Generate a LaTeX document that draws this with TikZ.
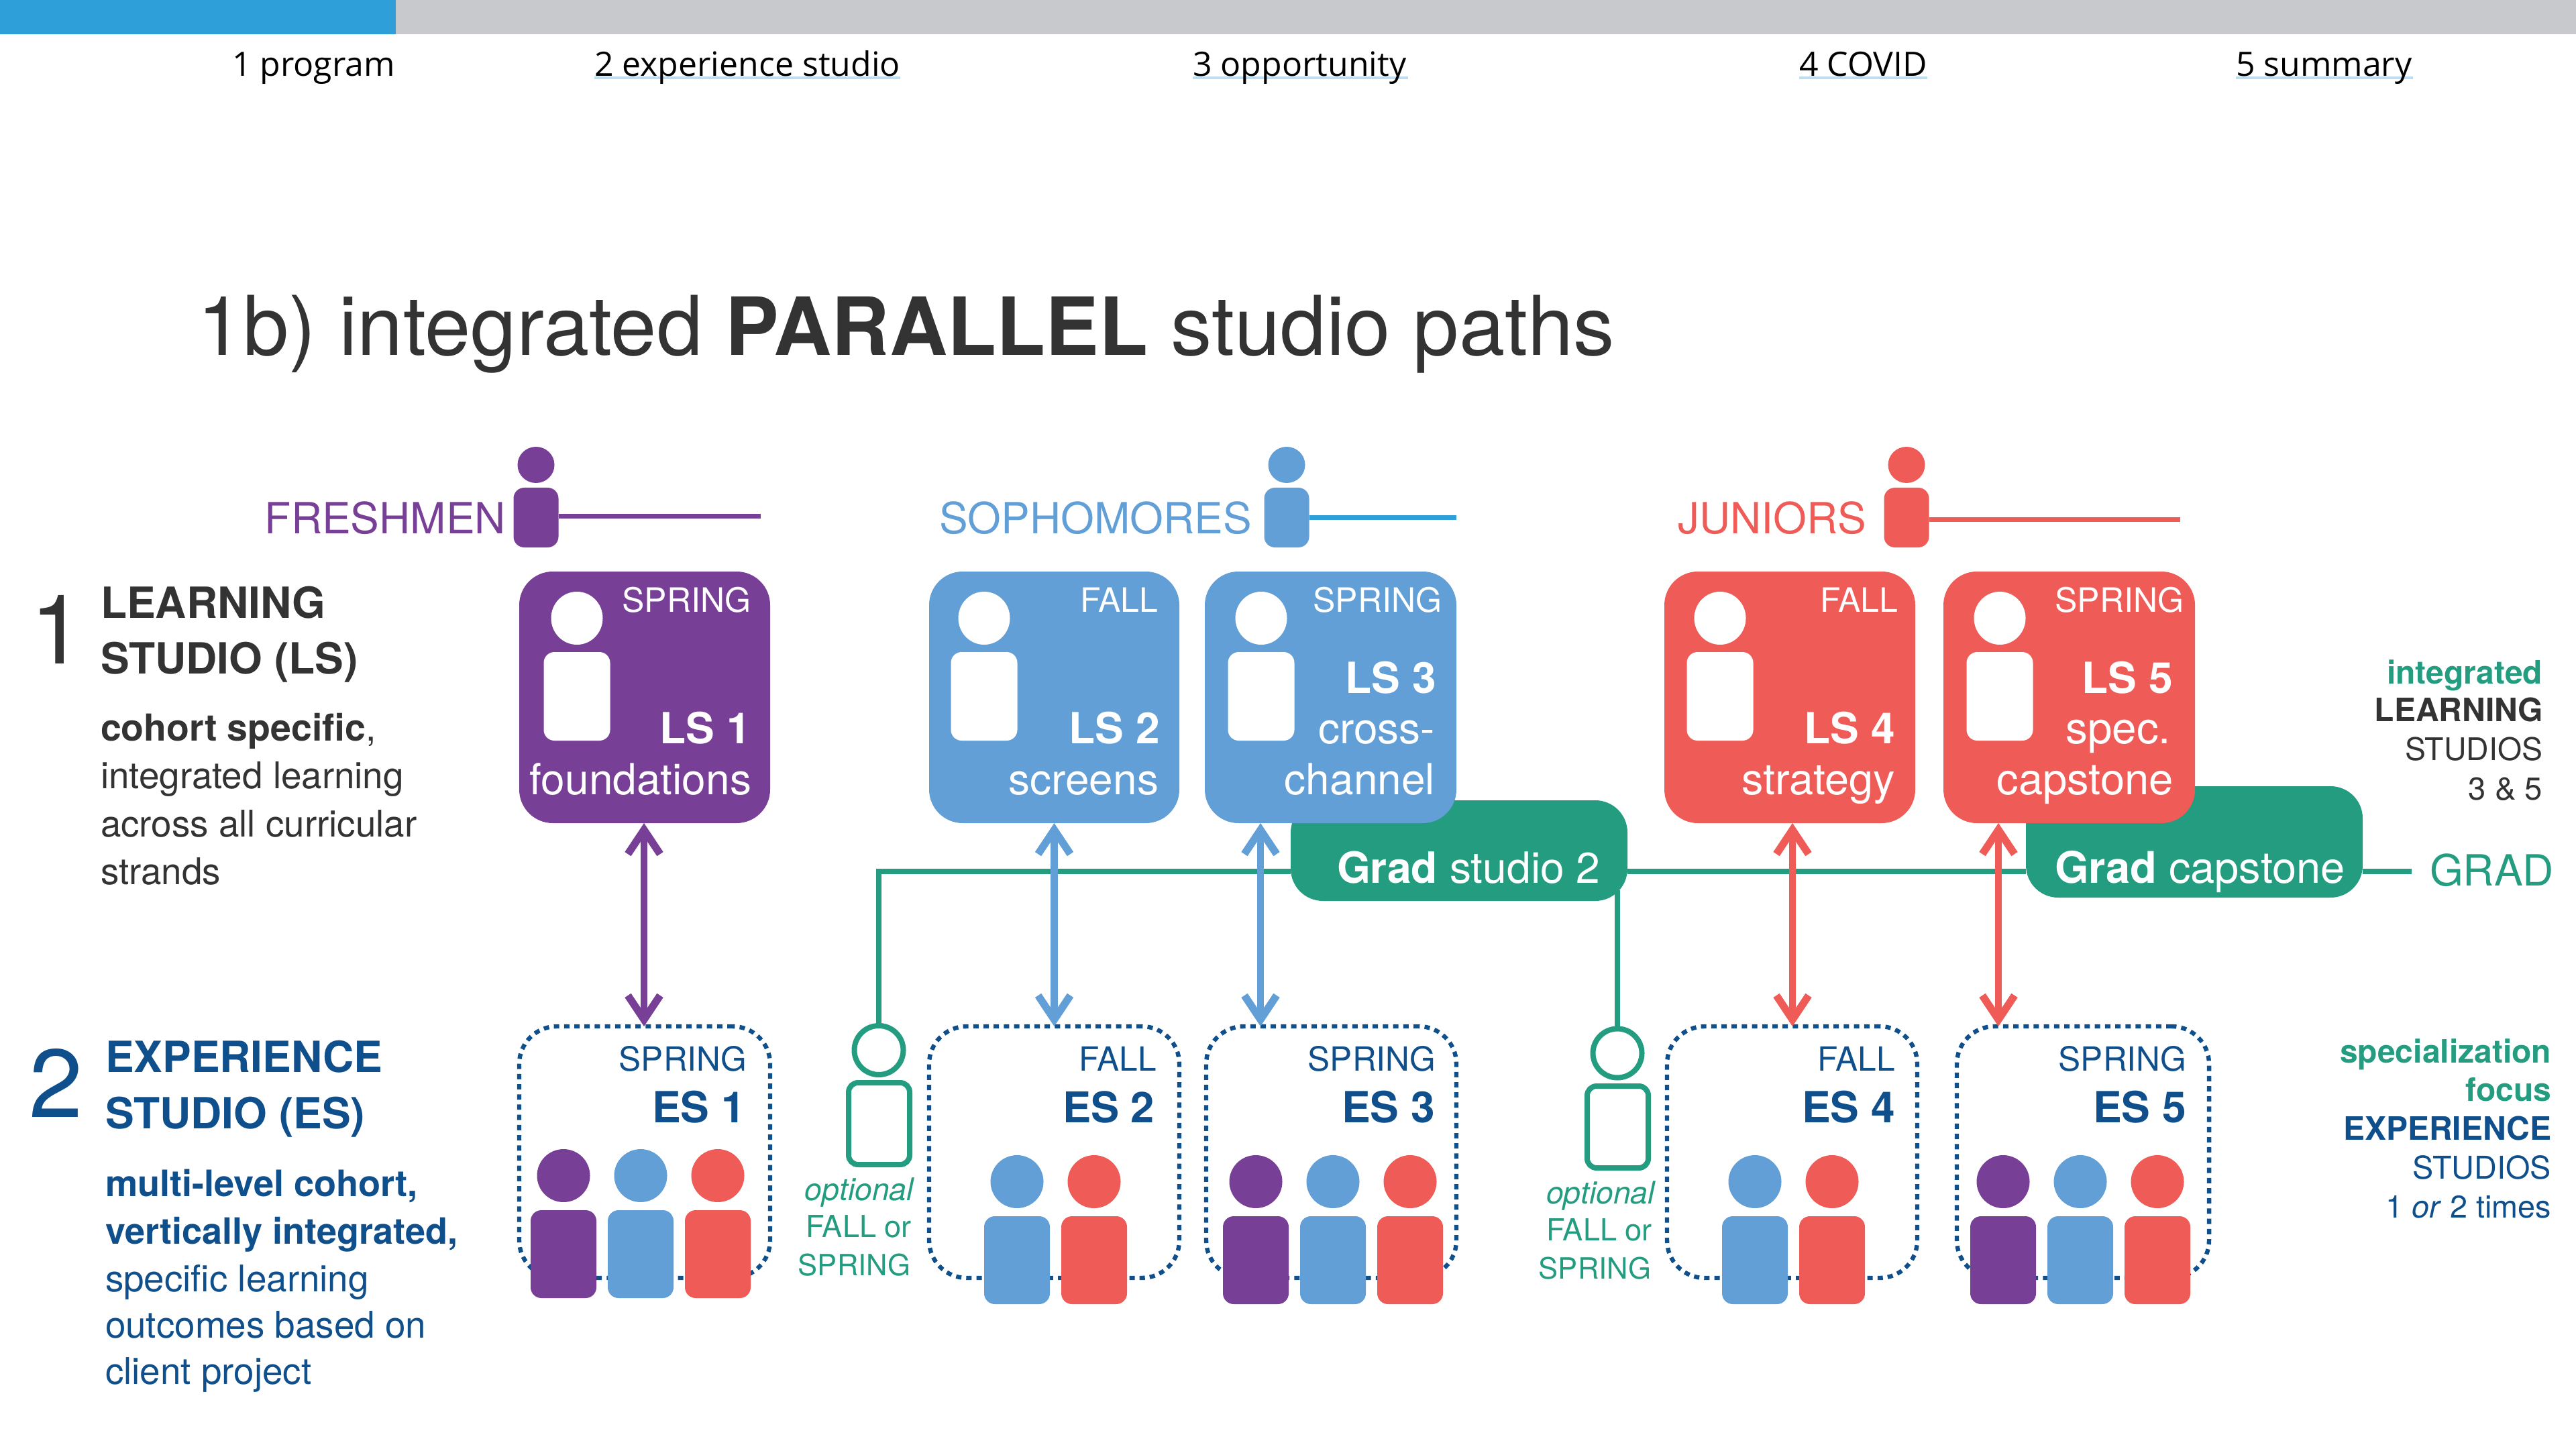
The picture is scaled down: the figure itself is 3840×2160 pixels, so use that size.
\documentclass[tikz,border=0pt]{standalone}
\usepackage{fontspec}
\usetikzlibrary{arrows.meta,shapes.geometric,calc}
\setmainfont{TeX Gyre Heros}
\newfontfamily\tabfont{Open Sans}
\definecolor{cpurple}{HTML}{783F96}
\definecolor{cblue}{HTML}{629FD7}
\definecolor{cred}{HTML}{EF5C57}
\definecolor{cgreen}{HTML}{239C80}
\definecolor{cnavy}{HTML}{0F4F8B}
\definecolor{cbar}{HTML}{2E9FD9}
\definecolor{cgray}{HTML}{C8C9CD}
\definecolor{cdark}{HTML}{333333}
\definecolor{cul}{HTML}{BDDDF0}
\newcommand\fsz[1]{\fontsize{#1}{#1}\selectfont}
\tikzset{
  txt/.style={inner sep=0pt,outer sep=0pt},
  tl/.style={txt,anchor=base west},
  tr/.style={txt,anchor=base east},
  lsbox/.style={rounded corners=12.5pt,inner sep=0pt,outer sep=0pt},
  esbox/.style={draw=cnavy,line width=1.6pt,dash pattern=on 2pt off 1.8pt,rounded corners=14pt,inner sep=0pt,outer sep=0pt},
  gradbox/.style={fill=cgreen,rounded corners=12pt,inner sep=0pt,outer sep=0pt},
  gline/.style={cgreen,line width=1.8pt},
  yearline/.style={line width=1.75pt},
  twoway/.style={line width=2.6pt,{Straight Barb[length=9pt,width=12pt,line width=2.8pt]}-{Straight Barb[length=9pt,width=12pt,line width=2.8pt]}},
  optbody/.style={draw=cgreen,line width=2pt,rounded corners=3.5pt,inner sep=0pt,outer sep=0pt},
  opthead/.style={draw=cgreen,line width=2pt,ellipse,inner sep=0pt,outer sep=0pt,minimum width=18.25pt,minimum height=18.25pt},
}
% name x0 y0 x1 y1 style
\newcommand\bx[6]{%
  \pgfmathsetmacro\bxcx{(#2+#4)/2}\pgfmathsetmacro\bxcy{(#3+#5)/2}%
  \pgfmathsetmacro\bxw{(#4-#2)*0.25}\pgfmathsetmacro\bxh{(#5-#3)*0.25}%
  \node[#6,minimum width=\bxw pt,minimum height=\bxh pt] (#1) at (\bxcx,\bxcy) {};}
% name cx heady0 heady1 headw bodyw bodyy0 bodyy1 colour
\newcommand\person[9]{%
  \pgfmathsetmacro\phx{#5/2}\pgfmathsetmacro\phy{(#4-#3)/2}\pgfmathsetmacro\phc{(#3+#4)/2}%
  \pgfmathsetmacro\pbl{#2-#6/2}\pgfmathsetmacro\pbr{#2+#6/2}%
  \fill[#9] (#2,\phc) ellipse [x radius=\phx,y radius=\phy];
  \bx{#1}{\pbl}{#7}{\pbr}{#8}{fill=#9,rounded corners=4pt,inner sep=0pt,outer sep=0pt}}
\newcommand\lsperson[2]{\person{#1}{#2}{882}{961}{77}{99}{972}{1104}{white}}
\newcommand\esperson[3]{\person{#1}{#2}{1722}{1801}{79}{98}{1813}{1944}{#3}}
\newcommand\esupperson[3]{\person{#1}{#2}{1713}{1792}{79}{98}{1804}{1935}{#3}}
\begin{document}
\begin{tikzpicture}[x=0.25pt,y=-0.25pt]
\useasboundingbox (0,0) rectangle (3840,2160);
% top bar
\bx{barrest}{0}{0}{3840}{51}{fill=cgray,inner sep=0pt,outer sep=0pt}
\bx{barnow}{0}{0}{590}{51}{fill=cbar,inner sep=0pt,outer sep=0pt}
% tabs
\fill[cul] (886,114.5) rectangle (1342,118);
\fill[cul] (1778,114.5) rectangle (2099,118);
\fill[cul] (2682,114.5) rectangle (2873,118);
\fill[cul] (3333,114.5) rectangle (3597,118);
\node[tl] (tab1) at (346,114) {\tabfont\fsz{12.5}1 program};
\node[tl] (tab2) at (886,114) {\tabfont\fsz{12.5}2 experience studio};
\node[tl] (tab3) at (1778,114) {\tabfont\fsz{12.5}3 opportunity};
\node[tl] (tab4) at (2682,114) {\tabfont\fsz{12.5}4 COVID};
\node[tl] (tab5) at (3333,114) {\tabfont\fsz{12.5}5 summary};
% title
\node[tl,text=cdark] (title) at (294,530) {\fsz{30.7}1b) integrated \textbf{\fsz{29.9}PARALLEL} studio paths};
% year icons
\person{fr}{799}{666}{720}{55}{67}{727}{816}{cpurple}
\person{so}{1918}{666}{720}{55}{67}{727}{816}{cblue}
\person{ju}{2842}{666}{720}{55}{67}{727}{816}{cred}
\coordinate (frend) at (1134,769);
\coordinate (soend) at (2171,771);
\coordinate (juend) at (3250,774);
\draw[yearline,cpurple] (fr.east |- frend) -- (frend);
\draw[yearline,cbar] (so.east |- soend) -- (soend);
\draw[yearline,cred] (ju.east |- juend) -- (juend);
\node[tr,text=cpurple] (frl) at (754,795) {\fsz{16}FRESHMEN};
\node[tr,text=cblue] (sol) at (1866,795) {\fsz{16}SOPHOMORES};
\node[tr,text=cred] (jul) at (2782,795) {\fsz{16}JUNIORS};
% left panel 1
\node[tl,text=cdark] (n1) at (45,989) {\fsz{36}1};
\node[tl,text=cdark] (h1a) at (150,921) {\fsz{16}\bfseries LEARNING};
\node[tl,text=cdark] (h1b) at (150,1004) {\fsz{16}\bfseries STUDIO (LS)};
\node[tl,text=cdark] (p1a) at (150,1104) {\fsz{13.85}\textbf{cohort specific},};
\node[tl,text=cdark] (p1b) at (150,1175) {\fsz{13.7}integrated learning};
\node[tl,text=cdark] (p1c) at (150,1247) {\fsz{13.7}across all curricular};
\node[tl,text=cdark] (p1d) at (150,1318) {\fsz{13.7}strands};
% left panel 2
\node[tl,text=cnavy] (n2) at (43,1665) {\fsz{36}2};
\node[tl,text=cnavy] (h2a) at (157,1598) {\fsz{16}\bfseries EXPERIENCE};
\node[tl,text=cnavy] (h2b) at (157,1682) {\fsz{16}\bfseries STUDIO (ES)};
\node[tl,text=cnavy] (p2a) at (157,1783) {\fsz{13.55}\bfseries multi-level cohort,};
\node[tl,text=cnavy] (p2b) at (157,1854) {\fsz{13.5}\bfseries vertically integrated,};
\node[tl,text=cnavy] (p2c) at (157,1925) {\fsz{13.7}specific learning};
\node[tl,text=cnavy] (p2d) at (157,1994) {\fsz{13.7}outcomes based on};
\node[tl,text=cnavy] (p2e) at (157,2063) {\fsz{13.7}client project};
% optional persons
\node[opthead] (oh1) at (1310,1565.5) {};
\bx{ob1}{1265}{1614}{1356}{1736}{optbody}
\node[opthead] (oh2) at (2411,1570) {};
\bx{ob2}{2366}{1619}{2457}{1741}{optbody}
% grad boxes and line
\bx{grad2}{1924}{1193}{2426}{1343}{gradbox}
\bx{gradc}{3020}{1172}{3522}{1338}{gradbox}
\coordinate (gl) at (0,1299);
\coordinate (glend) at (3595,1299);
\draw[gline] (oh1.north) |- (grad2.west |- gl);
\draw[gline] (grad2.east |- gl) -- (gradc.west |- gl);
\draw[gline] (gradc.east |- gl) -- (glend);
\draw[gline] ($(grad2.south -| oh2.north)+(0,-16)$) -- (oh2.north);
\node[tl,text=white] (g2t) at (1993,1316) {\fsz{16.05}\textbf{Grad} studio 2};
\node[tl,text=white] (gct) at (3063,1316) {\fsz{16.25}\textbf{Grad} capstone};
\node[tl,text=cgreen] (gradl) at (3622,1320) {\fsz{16}GRAD};
% learning studios
\bx{ls1}{774}{852}{1148}{1227}{lsbox,fill=cpurple}
\bx{ls2}{1385}{852}{1758}{1227}{lsbox,fill=cblue}
\bx{ls3}{1796}{852}{2171}{1227}{lsbox,fill=cblue}
\bx{ls4}{2481}{852}{2855}{1227}{lsbox,fill=cred}
\bx{ls5}{2897}{852}{3272}{1227}{lsbox,fill=cred}
\lsperson{lp1}{860}
\lsperson{lp2}{1467}
\lsperson{lp3}{1880}
\lsperson{lp4}{2564}
\lsperson{lp5}{2981}
\node[tr,text=white] (l1a) at (1119,912) {\fsz{12.5}SPRING};
\node[tr,text=white] (l1b) at (1119,1108) {\fsz{16}\bfseries LS 1};
\node[tr,text=white] (l1c) at (1120,1184) {\fsz{16}foundations};
\node[tr,text=white] (l2a) at (1726,912) {\fsz{12.5}FALL};
\node[tr,text=white] (l2b) at (1729,1108) {\fsz{16}\bfseries LS 2};
\node[tr,text=white] (l2c) at (1727,1184) {\fsz{16}screens};
\node[tr,text=white] (l3a) at (2149,912) {\fsz{12.5}SPRING};
\node[tr,text=white] (l3b) at (2141,1033) {\fsz{16}\bfseries LS 3};
\node[tr,text=white] (l3c) at (2139,1108) {\fsz{16}cross-};
\node[tr,text=white] (l3d) at (2139,1184) {\fsz{16}channel};
\node[tr,text=white] (l4a) at (2829,912) {\fsz{12.5}FALL};
\node[tr,text=white] (l4b) at (2825,1108) {\fsz{16}\bfseries LS 4};
\node[tr,text=white] (l4c) at (2825,1184) {\fsz{16.2}strategy};
\node[tr,text=white] (l5a) at (3255,912) {\fsz{12.5}SPRING};
\node[tr,text=white] (l5b) at (3239,1033) {\fsz{16}\bfseries LS 5};
\node[tr,text=white] (l5c) at (3236,1108) {\fsz{16.4}spec.};
\node[tr,text=white] (l5d) at (3240,1184) {\fsz{16.3}capstone};
% experience studios
\bx{es1}{774}{1530}{1148}{1905}{esbox}
\bx{es2}{1385}{1530}{1758}{1905}{esbox}
\bx{es3}{1798}{1530}{2171}{1905}{esbox}
\bx{es4}{2485}{1530}{2858}{1905}{esbox}
\bx{es5}{2917}{1530}{3293}{1905}{esbox}
\node[tr,text=cnavy] (e1a) at (1113,1596) {\fsz{12.4}SPRING};
\node[tr,text=cnavy] (e1b) at (1111,1673) {\fsz{16}\bfseries ES 1};
\node[tr,text=cnavy] (e2a) at (1724,1596) {\fsz{12.4}FALL};
\node[tr,text=cnavy] (e2b) at (1721,1673) {\fsz{15.8}\bfseries ES 2};
\node[tr,text=cnavy] (e3a) at (2140,1596) {\fsz{12.4}SPRING};
\node[tr,text=cnavy] (e3b) at (2139,1673) {\fsz{16}\bfseries ES 3};
\node[tr,text=cnavy] (e4a) at (2825,1596) {\fsz{12.4}FALL};
\node[tr,text=cnavy] (e4b) at (2825,1673) {\fsz{16}\bfseries ES 4};
\node[tr,text=cnavy] (e5a) at (3259,1596) {\fsz{12.4}SPRING};
\node[tr,text=cnavy] (e5b) at (3259,1673) {\fsz{16}\bfseries ES 5};
\esupperson{a1}{840}{cpurple}
\esupperson{a2}{955}{cblue}
\esupperson{a3}{1070}{cred}
\esperson{b1}{1516}{cblue}
\esperson{b2}{1631}{cred}
\esperson{c1}{1872}{cpurple}
\esperson{c2}{1987}{cblue}
\esperson{c3}{2102}{cred}
\esperson{d1}{2616}{cblue}
\esperson{d2}{2731}{cred}
\esperson{f1}{2986}{cpurple}
\esperson{f2}{3101}{cblue}
\esperson{f3}{3216}{cred}
% two-way arrows
\draw[twoway,cpurple] (ls1.south -| 960,0) -- (es1.north -| 960,0);
\draw[twoway,cblue] (ls2.south) -- (es2.north);
\draw[twoway,cblue] (ls3.south -| 1879,0) -- (es3.north -| 1879,0);
\draw[twoway,cred] (ls4.south -| 2672,0) -- (es4.north -| 2672,0);
\draw[twoway,cred] (ls5.south -| 2979,0) -- (es5.north -| 2979,0);
% optional labels
\node[tr,text=cgreen] (o1a) at (1362,1789) {\fsz{11.6}\itshape optional};
\node[tr,text=cgreen] (o1b) at (1359,1844) {\fsz{11.3}FALL or};
\node[tr,text=cgreen] (o1c) at (1357,1901) {\fsz{10.9}SPRING};
\node[tr,text=cgreen] (o2a) at (2467,1794) {\fsz{11.6}\itshape optional};
\node[tr,text=cgreen] (o2b) at (2463,1849) {\fsz{11.3}FALL or};
\node[tr,text=cgreen] (o2c) at (2461,1906) {\fsz{10.9}SPRING};
% right notes
\node[tr,text=cgreen] (r1a) at (3790,1019) {\fsz{12}\bfseries integrated};
\node[tr,text=cdark] (r1b) at (3791,1075) {\fsz{12}\bfseries LEARNING};
\node[tr,text=cdark] (r1c) at (3790,1133) {\fsz{11.6}STUDIOS};
\node[tr,text=cdark] (r1d) at (3790,1192) {\fsz{11.8}3 \& 5};
\node[tr,text=cgreen] (r2a) at (3803,1584) {\fsz{12}\bfseries specialization};
\node[tr,text=cgreen] (r2b) at (3803,1641) {\fsz{12}\bfseries focus};
\node[tr,text=cnavy] (r2c) at (3803,1699) {\fsz{12}\bfseries EXPERIENCE};
\node[tr,text=cnavy] (r2d) at (3803,1757) {\fsz{11.7}STUDIOS};
\node[tr,text=cnavy] (r2e) at (3803,1815) {\fsz{11.7}1 \textit{or} 2 times};
\end{tikzpicture}
\end{document}
